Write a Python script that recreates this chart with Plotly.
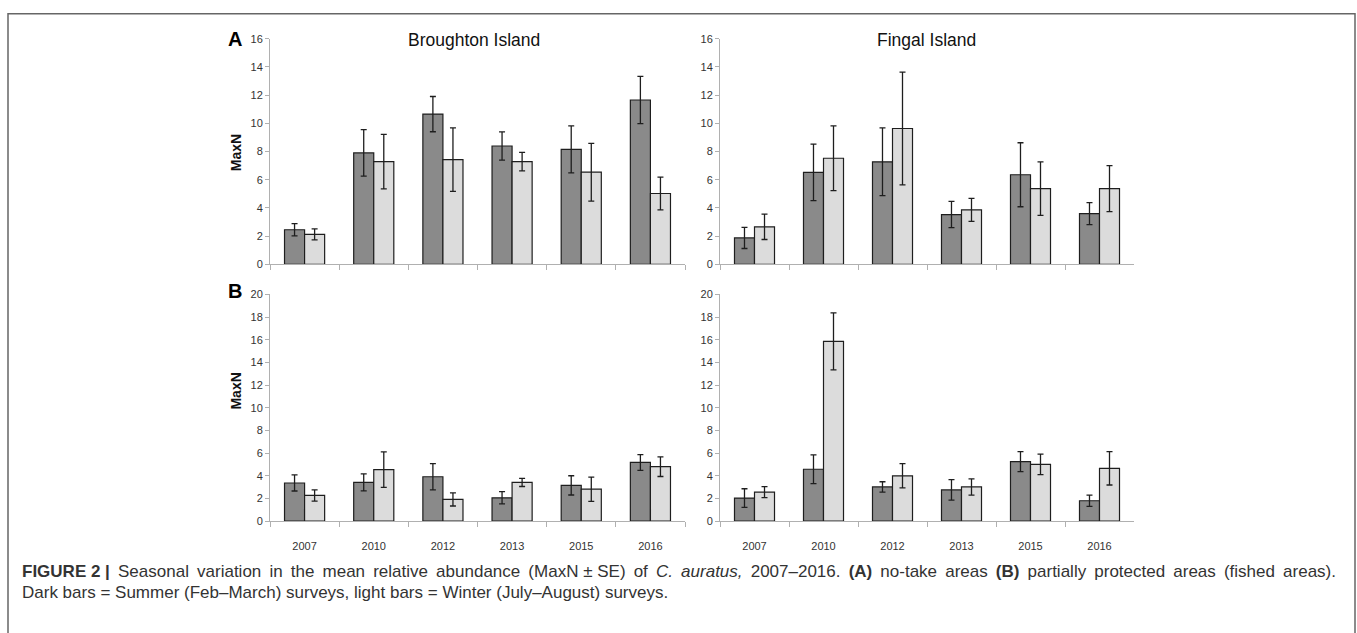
import plotly.graph_objects as go

W, H = 1357, 633

years = ["2007", "2010", "2012", "2013", "2015", "2016"]

# Panel A: no-take areas
bro_a_summer = [2.45, 7.9, 10.65, 8.39, 8.15, 11.65]
bro_a_summer_se = [0.43, 1.65, 1.25, 1.0, 1.67, 1.68]
bro_a_winter = [2.12, 7.28, 7.42, 7.28, 6.53, 5.02]
bro_a_winter_se = [0.39, 1.93, 2.25, 0.66, 2.05, 1.16]

fin_a_summer = [1.87, 6.52, 7.27, 3.53, 6.35, 3.6]
fin_a_summer_se = [0.75, 2.0, 2.4, 0.93, 2.27, 0.78]
fin_a_winter = [2.66, 7.52, 9.63, 3.86, 5.37, 5.37]
fin_a_winter_se = [0.9, 2.3, 4.0, 0.82, 1.9, 1.63]

# Panel B: partially protected areas
bro_b_summer = [3.36, 3.41, 3.91, 2.05, 3.15, 5.17]
bro_b_summer_se = [0.71, 0.75, 1.16, 0.54, 0.85, 0.7]
bro_b_winter = [2.26, 4.54, 1.91, 3.41, 2.81, 4.8]
bro_b_winter_se = [0.5, 1.56, 0.58, 0.36, 1.07, 0.87]

fin_b_summer = [2.03, 4.57, 3.01, 2.75, 5.24, 1.79]
fin_b_summer_se = [0.82, 1.27, 0.46, 0.9, 0.88, 0.5]
fin_b_winter = [2.55, 15.86, 3.99, 3.01, 5.0, 4.65]
fin_b_winter_se = [0.48, 2.52, 1.07, 0.72, 0.91, 1.47]

DARK = "#8a8a8a"
LIGHT = "#dcdcdc"
EDGE = "#1e1e1e"
AXIS = "#b0b0b0"
FONT = "Liberation Sans, Arial, sans-serif"


def px_x(x):
    return x / W


def px_y(y):
    return (H - y) / H


fig = go.Figure()

panels = [
    ("x", "y", bro_a_summer, bro_a_summer_se, bro_a_winter, bro_a_winter_se),
    ("x2", "y2", fin_a_summer, fin_a_summer_se, fin_a_winter, fin_a_winter_se),
    ("x3", "y3", bro_b_summer, bro_b_summer_se, bro_b_winter, bro_b_winter_se),
    ("x4", "y4", fin_b_summer, fin_b_summer_se, fin_b_winter, fin_b_winter_se),
]

for xa, ya, s, sse, w, wse in panels:
    fig.add_trace(go.Bar(
        x=years, y=s, xaxis=xa, yaxis=ya, name="Summer (Feb–March)",
        marker=dict(color=DARK, line=dict(color=EDGE, width=1.2)),
        error_y=dict(type="data", array=sse, visible=True, color=EDGE,
                     thickness=1.3, width=3),
        showlegend=False, offsetgroup="s",
    ))
    fig.add_trace(go.Bar(
        x=years, y=w, xaxis=xa, yaxis=ya, name="Winter (July–August)",
        marker=dict(color=LIGHT, line=dict(color=EDGE, width=1.2)),
        error_y=dict(type="data", array=wse, visible=True, color=EDGE,
                     thickness=1.3, width=3),
        showlegend=False, offsetgroup="w",
    ))

left_dom = [px_x(270), px_x(685)]
right_dom = [px_x(720), px_x(1134)]
a_dom = [px_y(263.3), px_y(33.3)]
b_dom = [px_y(525), px_y(294)]

xcommon = dict(type="category", tickson="boundaries", ticks="outside",
               ticklen=5, tickcolor=AXIS, showline=True, linecolor=AXIS,
               linewidth=1, showgrid=False, zeroline=False, fixedrange=True,
               tickfont=dict(family=FONT, size=11, color="#333333"))
ycommon = dict(ticks="outside", ticklen=4, tickcolor=AXIS, showline=True,
               linecolor=AXIS, linewidth=1, showgrid=False, zeroline=False,
               dtick=2, tickfont=dict(family=FONT, size=11, color="#333333"),
               fixedrange=True)

fig.update_layout(
    width=W, height=H, autosize=False,
    margin=dict(l=0, r=0, t=0, b=0),
    paper_bgcolor="white", plot_bgcolor="white",
    barmode="group", bargap=0.42, bargroupgap=0,
    xaxis=dict(domain=left_dom, anchor="y", showticklabels=False, **xcommon),
    xaxis2=dict(domain=right_dom, anchor="y2", showticklabels=False, **xcommon),
    xaxis3=dict(domain=left_dom, anchor="y3", showticklabels=True,
                ticklabelstandoff=15, **xcommon),
    xaxis4=dict(domain=right_dom, anchor="y4", showticklabels=True,
                ticklabelstandoff=15, **xcommon),
    yaxis=dict(domain=a_dom, anchor="x", range=[0, 16], **ycommon),
    yaxis2=dict(domain=a_dom, anchor="x2", range=[0, 16], **ycommon),
    yaxis3=dict(domain=b_dom, anchor="x3", range=[0, 20], **ycommon),
    yaxis4=dict(domain=b_dom, anchor="x4", range=[0, 20], **ycommon),
    showlegend=False,
)

# justified first caption line: widen most word gaps with a thin space
TS = " \u2009"
cap1 = ("<b>FIGURE 2 |</b>" + TS + TS.join(
    "Seasonal variation in the mean relative abundance (MaxN".split(" "))
    + " ± SE)" + TS + "of" + TS + "<i>C." + TS + "auratus,</i>" + TS
    + "2007–2016." + TS + "<b>(A)</b>" + TS + "no-take" + TS + "areas" + TS
    + "<b>(B)</b>" + TS
    + TS.join("partially protected areas (fished areas).".split(" ")))

ann = []
ann.append(dict(text="Broughton Island", x=px_x(474), y=px_y(35),
                font=dict(family=FONT, size=17.5, color="#111111")))
ann.append(dict(text="Fingal Island", x=px_x(926), y=px_y(35),
                font=dict(family=FONT, size=17.5, color="#111111")))
ann.append(dict(text="<b>A</b>", x=px_x(235), y=px_y(34),
                font=dict(family=FONT, size=20, color="#000000")))
ann.append(dict(text="<b>B</b>", x=px_x(235), y=px_y(290),
                font=dict(family=FONT, size=20, color="#000000")))
ann.append(dict(text="<b>MaxN</b>", x=px_x(236), y=px_y(150), textangle=-90,
                font=dict(family=FONT, size=14, color="#111111")))
ann.append(dict(text="<b>MaxN</b>", x=px_x(236), y=px_y(393), textangle=-90,
                font=dict(family=FONT, size=14, color="#111111")))
ann.append(dict(text=cap1, x=px_x(20), y=px_y(576), xanchor="left",
                font=dict(family=FONT, size=17, color="#333333")))
ann.append(dict(
    text="Dark bars = Summer (Feb–March) surveys, light bars = Winter (July–August) surveys.",
    x=px_x(20), y=px_y(598), xanchor="left",
    font=dict(family=FONT, size=17, color="#333333")))

for a in ann:
    a.setdefault("xanchor", "center")
    a.update(xref="paper", yref="paper", yanchor="middle", showarrow=False)
fig.update_layout(annotations=ann)

fig.add_shape(type="rect", xref="paper", yref="paper",
              x0=px_x(8), x1=px_x(1355), y0=-0.05, y1=px_y(8),
              line=dict(color="#666666", width=1.5), fillcolor="rgba(0,0,0,0)")

fig.write_html("out.html")
